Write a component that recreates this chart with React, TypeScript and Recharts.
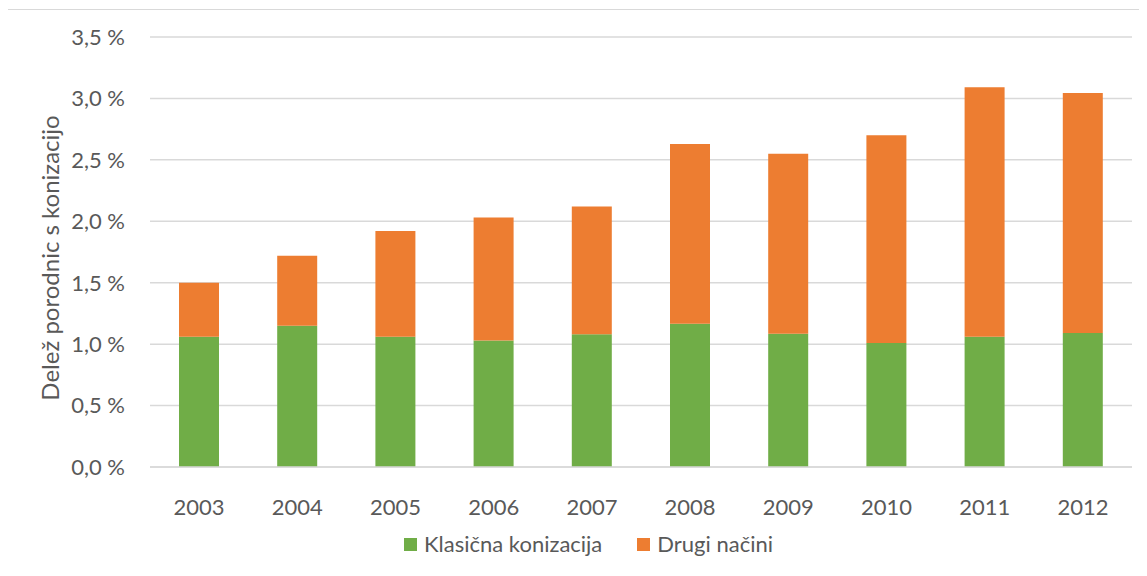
import React from 'react';
import { BarChart, Bar, XAxis, YAxis, CartesianGrid, Legend } from 'recharts';

const years = ['2003', '2004', '2005', '2006', '2007', '2008', '2009', '2010', '2011', '2012'];
const klasicna = [1.06, 1.15, 1.06, 1.03, 1.08, 1.165, 1.085, 1.01, 1.06, 1.09];
const drugi = [0.44, 0.57, 0.86, 1.0, 1.04, 1.465, 1.465, 1.69, 2.03, 1.955];
const yTicks = [0, 0.5, 1.0, 1.5, 2.0, 2.5, 3.0, 3.5];
const seriesNames = ['Klasična konizacija', 'Drugi načini'];
const seriesColors = ['#70AD47', '#ED7D31'];
const yTitle = 'Delež porodnic s konizacijo';

const data = years.map((y, i) => ({ year: y, klasicna: klasicna[i], drugi: drugi[i] }));

const FONT = 'Lato, "Noto Sans", sans-serif';
const TEXT = '#595959';
const GRID = '#d9d9d9';

const fmt = (v: number) => v.toFixed(1).replace('.', ',') + ' %';

const LegendContent = () => (
  <div style={{ display: 'flex', alignItems: 'center', fontFamily: FONT, fontSize: 22, color: TEXT, lineHeight: '22px', whiteSpace: 'nowrap' }}>
    {seriesNames.map((n, i) => (
      <div key={n} style={{ display: 'flex', alignItems: 'center', marginRight: i === 0 ? 35 : 0 }}>
        <span style={{ display: 'inline-block', width: 13, height: 13, background: seriesColors[i], marginRight: 7 }} />
        <span>{n}</span>
      </div>
    ))}
  </div>
);

export default function App() {
  return (
    <div style={{ position: 'relative', width: 1147, height: 576, margin: -8, overflow: 'hidden', background: '#fff' }}>
      <div style={{ position: 'absolute', left: 7, top: 9, width: 1300, height: 800, border: `1.5px solid ${GRID}` }} />
      <div style={{ position: 'absolute', left: 0, top: 0 }}>
        <BarChart width={1147} height={576} data={data} margin={{ top: 37, right: 15, bottom: 79, left: 0 }} barSize={40}>
          <CartesianGrid vertical={false} stroke={GRID} strokeWidth={1.5} />
          <XAxis
            dataKey="year"
            height={30}
            axisLine={{ stroke: GRID, strokeWidth: 1.5 }}
            tickLine={false}
            tickMargin={26}
            tick={{ fontFamily: FONT, fontSize: 22, fill: TEXT }}
          />
          <YAxis
            width={150}
            domain={[0, 3.5]}
            ticks={yTicks}
            tickFormatter={fmt}
            axisLine={false}
            tickLine={false}
            tickMargin={19}
            tick={{ fontFamily: FONT, fontSize: 22, fill: TEXT }}
            label={{
              content: () => (
                <text
                  x={49}
                  y={258}
                  transform="rotate(-90 49 258)"
                  textAnchor="middle"
                  dominantBaseline="central"
                  style={{ fontFamily: FONT, fontSize: 24, fill: TEXT }}
                >
                  {yTitle}
                </text>
              ),
            }}
          />
          <Legend
            layout="horizontal"
            verticalAlign="middle"
            align="center"
            wrapperStyle={{ left: 404, top: 533, width: 'auto', height: 'auto' }}
            content={<LegendContent />}
          />
          <Bar dataKey="klasicna" name={seriesNames[0]} stackId="a" fill={seriesColors[0]} isAnimationActive={false} />
          <Bar dataKey="drugi" name={seriesNames[1]} stackId="a" fill={seriesColors[1]} isAnimationActive={false} />
        </BarChart>
      </div>
    </div>
  );
}
